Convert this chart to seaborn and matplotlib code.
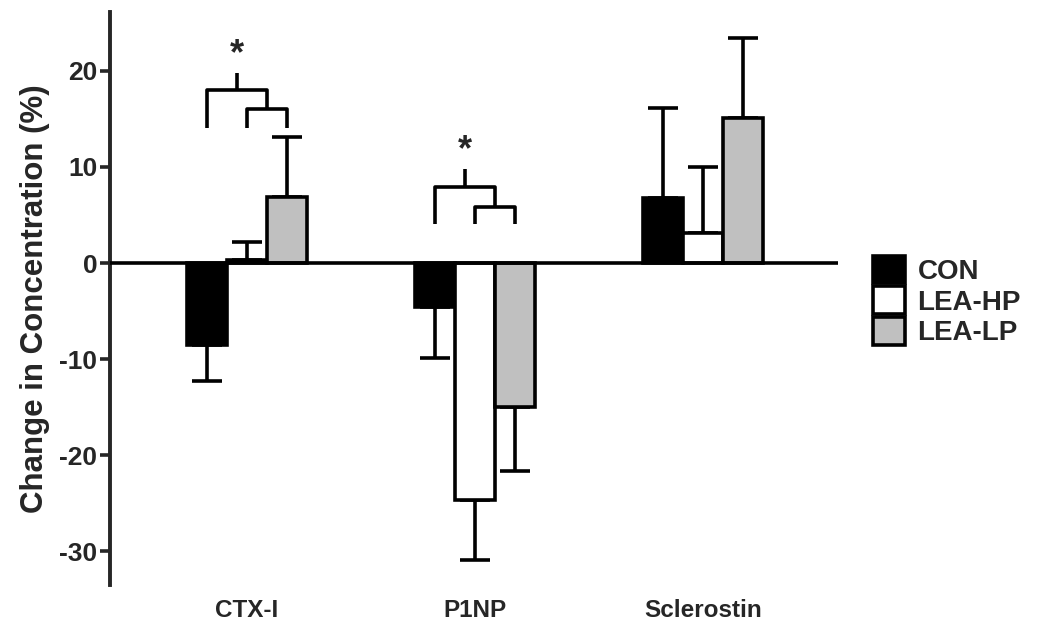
import matplotlib
matplotlib.use("Agg")
import matplotlib.pyplot as plt
import seaborn as sns
import pandas as pd
import numpy as np

# data
markers = ["CTX-I", "P1NP", "Sclerostin"]
groups = ["CON", "LEA-HP", "LEA-LP"]
means = {
    "CON": [-8.5, -4.6, 6.8],
    "LEA-HP": [0.3, -24.7, 3.1],
    "LEA-LP": [6.9, -15.0, 15.1],
}
errs = {
    "CON": [3.8, 5.3, 9.3],
    "LEA-HP": [1.9, 6.2, 6.9],
    "LEA-LP": [6.2, 6.6, 8.3],
}
colors = ["black", "white", "#c0c0c0"]

# significance brackets: (marker index, outer level, inner level, leg bottom, star level)
brackets = [(0, 18.0, 16.0, 14.1, 19.8), (1, 7.9, 5.8, 4.1, 9.8)]

df = pd.DataFrame({
    "Marker": markers * len(groups),
    "Group": [g for g in groups for _ in markers],
    "Change": [v for g in groups for v in means[g]],
})

sns.set_style("ticks")
plt.rcParams["font.family"] = ["Liberation Sans", "DejaVu Sans"]
plt.rcParams["font.weight"] = "bold"

fig = plt.figure(figsize=(10.47, 6.24), dpi=100)
ax = fig.add_axes([0.105, 0.0625, 0.695, 0.918])

sns.barplot(data=df, x="Marker", y="Change", hue="Group", order=markers,
            hue_order=groups, palette=colors, errorbar=None, width=0.525,
            edgecolor="black", linewidth=2.6, ax=ax, zorder=3)

# one-sided error bars, drawn away from zero
centers = {}
for gi, g in enumerate(groups):
    cont = ax.containers[gi]
    for mi, bar in enumerate(cont):
        x = bar.get_x() + bar.get_width() / 2
        centers[(gi, mi)] = x
        m = means[g][mi]
        e = errs[g][mi]
        yerr = [[0], [e]] if m >= 0 else [[e], [0]]
        ax.errorbar(x, m, yerr=yerr, fmt="none", ecolor="black",
                    elinewidth=2.6, capsize=11, capthick=2.6, zorder=2)

for mi, outer, inner, low, top in brackets:
    x0, x1, x2 = centers[(0, mi)], centers[(1, mi)], centers[(2, mi)]
    xm = (x1 + x2) / 2
    kw = dict(color="black", lw=2.6, solid_capstyle="butt")
    ax.plot([x1, x1, x2, x2], [low, inner, inner, low], **kw)
    ax.plot([x0, x0, xm, xm], [low, outer, outer, inner], **kw)
    xs = (x0 + xm) / 2
    ax.plot([xs, xs], [outer, top], **kw)
    ax.text(xs, top + 0.1, "*", ha="center", va="bottom", fontsize=26,
            fontweight="bold")

ax.axhline(0, color="black", lw=2.6, zorder=4)
ax.set_xlim(-0.6, 2.59)
ax.set_ylim(-33.5, 26.1)
ax.set_yticks([-30, -20, -10, 0, 10, 20])
ax.set_yticklabels(["-30", "-20", "-10", "0", "10", "20"])
ax.set_xlabel("")
ax.set_ylabel("Change in Concentration (%)", fontsize=22.5, fontweight="bold",
              labelpad=7)
ax.tick_params(axis="y", labelsize=19, width=2.6, length=7, direction="out",
               pad=2)
ax.tick_params(axis="x", labelsize=17.5, length=0, pad=10)
for lab in ax.get_xticklabels() + ax.get_yticklabels():
    lab.set_fontweight("bold")

for s in ["top", "right", "bottom"]:
    ax.spines[s].set_visible(False)
ax.spines["left"].set_linewidth(2.8)

handles, labels = ax.get_legend_handles_labels()
ax.legend(handles, labels, loc="upper left", bbox_to_anchor=(0.81, 0.63),
          bbox_transform=fig.transFigure, frameon=False,
          handlelength=1.15, handleheight=1.15, handletextpad=0.45,
          labelspacing=0.05, prop={"weight": "bold", "size": 20})

fig.savefig("out.png", dpi=100)
